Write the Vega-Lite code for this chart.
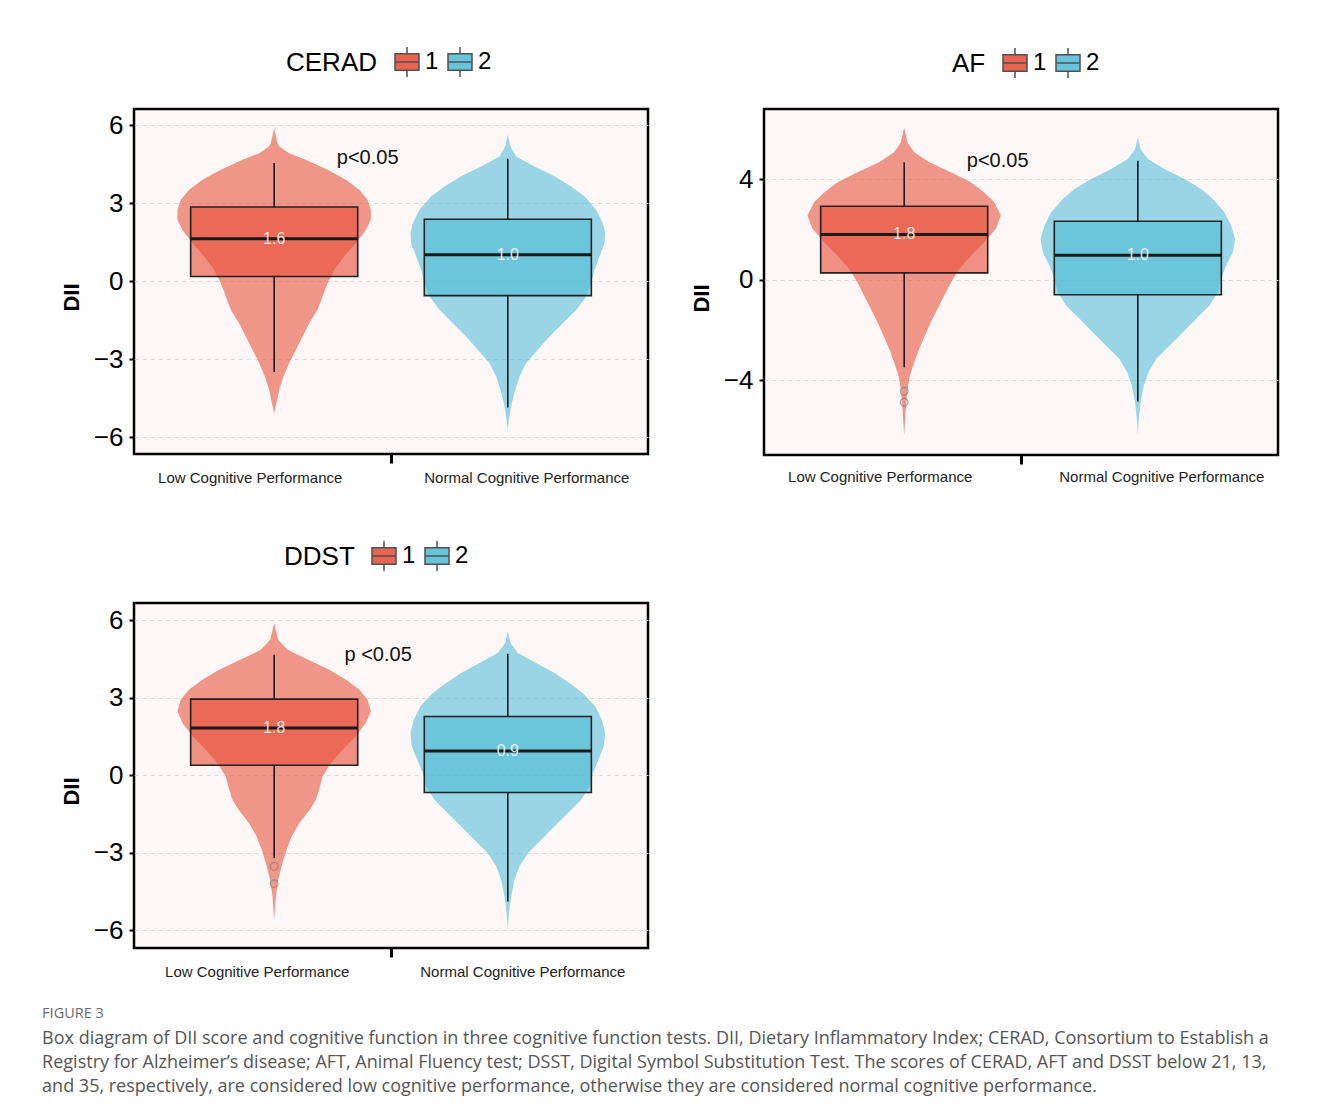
{
"$schema": "https://vega.github.io/schema/vega-lite/v6.json",
"background": "white",
"padding": {"left": 42, "top": 44, "right": 10, "bottom": 10},
"title": {"text": "FIGURE 3", "subtitle": ["Box diagram of DII score and cognitive function in three cognitive function tests. DII, Dietary Inflammatory Index; CERAD, Consortium to Establish a", "Registry for Alzheimer’s disease; AFT, Animal Fluency test; DSST, Digital Symbol Substitution Test. The scores of CERAD, AFT and DSST below 21, 13,", "and 35, respectively, are considered low cognitive performance, otherwise they are considered normal cognitive performance."], "orient": "bottom", "anchor": "start", "offset": 27, "dx": -17, "font": "Open Sans", "fontSize": 14.5, "fontWeight": "normal", "color": "#6b6b6b", "subtitleFont": "Open Sans", "subtitleFontSize": 18, "subtitleColor": "#555555", "subtitleLineHeight": 24, "subtitlePadding": 8},
"datasets": {
"violin": [
{"test":"CERAD","grp":"1","dii":5.88,"density":0},{"test":"CERAD","grp":"1","dii":5.31,"density":0.029},{"test":"CERAD","grp":"1","dii":5.18,"density":0.043},{"test":"CERAD","grp":"1","dii":4.92,"density":0.128},{"test":"CERAD","grp":"1","dii":4.67,"density":0.271},{"test":"CERAD","grp":"1","dii":4.28,"density":0.457},{"test":"CERAD","grp":"1","dii":3.9,"density":0.614},{"test":"CERAD","grp":"1","dii":3.51,"density":0.728},{"test":"CERAD","grp":"1","dii":3.13,"density":0.799},{"test":"CERAD","grp":"1","dii":2.74,"density":0.828},{"test":"CERAD","grp":"1","dii":2.36,"density":0.828},{"test":"CERAD","grp":"1","dii":1.97,"density":0.785},{"test":"CERAD","grp":"1","dii":1.46,"density":0.699},{"test":"CERAD","grp":"1","dii":0.95,"density":0.599},{"test":"CERAD","grp":"1","dii":0.44,"density":0.514},{"test":"CERAD","grp":"1","dii":-0.08,"density":0.457},{"test":"CERAD","grp":"1","dii":-0.59,"density":0.414},{"test":"CERAD","grp":"1","dii":-1.1,"density":0.371},{"test":"CERAD","grp":"1","dii":-1.62,"density":0.3},{"test":"CERAD","grp":"1","dii":-2.13,"density":0.243},{"test":"CERAD","grp":"1","dii":-2.64,"density":0.186},{"test":"CERAD","grp":"1","dii":-3.15,"density":0.128},{"test":"CERAD","grp":"1","dii":-3.67,"density":0.08},{"test":"CERAD","grp":"1","dii":-4.18,"density":0.043},{"test":"CERAD","grp":"1","dii":-4.69,"density":0.02},{"test":"CERAD","grp":"1","dii":-5.08,"density":0},
{"test":"CERAD","grp":"2","dii":5.63,"density":0},{"test":"CERAD","grp":"2","dii":5.18,"density":0.023},{"test":"CERAD","grp":"2","dii":4.79,"density":0.071},{"test":"CERAD","grp":"2","dii":4.41,"density":0.228},{"test":"CERAD","grp":"2","dii":4.03,"density":0.4},{"test":"CERAD","grp":"2","dii":3.64,"density":0.542},{"test":"CERAD","grp":"2","dii":3.26,"density":0.656},{"test":"CERAD","grp":"2","dii":2.74,"density":0.756},{"test":"CERAD","grp":"2","dii":2.23,"density":0.813},{"test":"CERAD","grp":"2","dii":1.85,"density":0.833},{"test":"CERAD","grp":"2","dii":1.46,"density":0.828},{"test":"CERAD","grp":"2","dii":0.95,"density":0.785},{"test":"CERAD","grp":"2","dii":0.44,"density":0.742},{"test":"CERAD","grp":"2","dii":-0.08,"density":0.714},{"test":"CERAD","grp":"2","dii":-0.59,"density":0.671},{"test":"CERAD","grp":"2","dii":-1.1,"density":0.585},{"test":"CERAD","grp":"2","dii":-1.62,"density":0.471},{"test":"CERAD","grp":"2","dii":-2.13,"density":0.357},{"test":"CERAD","grp":"2","dii":-2.64,"density":0.257},{"test":"CERAD","grp":"2","dii":-3.15,"density":0.157},{"test":"CERAD","grp":"2","dii":-3.67,"density":0.1},{"test":"CERAD","grp":"2","dii":-4.18,"density":0.063},{"test":"CERAD","grp":"2","dii":-4.69,"density":0.034},{"test":"CERAD","grp":"2","dii":-5.21,"density":0.014},{"test":"CERAD","grp":"2","dii":-5.72,"density":0},
{"test":"AF","grp":"1","dii":6.06,"density":0},{"test":"AF","grp":"1","dii":5.46,"density":0.029},{"test":"AF","grp":"1","dii":5.07,"density":0.086},{"test":"AF","grp":"1","dii":4.67,"density":0.214},{"test":"AF","grp":"1","dii":4.27,"density":0.4},{"test":"AF","grp":"1","dii":3.87,"density":0.571},{"test":"AF","grp":"1","dii":3.47,"density":0.685},{"test":"AF","grp":"1","dii":3.08,"density":0.771},{"test":"AF","grp":"1","dii":2.55,"density":0.828},{"test":"AF","grp":"1","dii":2.02,"density":0.785},{"test":"AF","grp":"1","dii":1.49,"density":0.685},{"test":"AF","grp":"1","dii":0.95,"density":0.571},{"test":"AF","grp":"1","dii":0.42,"density":0.471},{"test":"AF","grp":"1","dii":-0.11,"density":0.4},{"test":"AF","grp":"1","dii":-0.64,"density":0.342},{"test":"AF","grp":"1","dii":-1.17,"density":0.285},{"test":"AF","grp":"1","dii":-1.7,"density":0.228},{"test":"AF","grp":"1","dii":-2.23,"density":0.177},{"test":"AF","grp":"1","dii":-2.76,"density":0.128},{"test":"AF","grp":"1","dii":-3.29,"density":0.086},{"test":"AF","grp":"1","dii":-3.82,"density":0.049},{"test":"AF","grp":"1","dii":-4.35,"density":0.029},{"test":"AF","grp":"1","dii":-5.15,"density":0.014},{"test":"AF","grp":"1","dii":-6.21,"density":0},
{"test":"AF","grp":"2","dii":5.66,"density":0},{"test":"AF","grp":"2","dii":5.2,"density":0.023},{"test":"AF","grp":"2","dii":4.8,"density":0.086},{"test":"AF","grp":"2","dii":4.4,"density":0.228},{"test":"AF","grp":"2","dii":4.0,"density":0.4},{"test":"AF","grp":"2","dii":3.61,"density":0.542},{"test":"AF","grp":"2","dii":3.21,"density":0.642},{"test":"AF","grp":"2","dii":2.68,"density":0.742},{"test":"AF","grp":"2","dii":2.15,"density":0.799},{"test":"AF","grp":"2","dii":1.62,"density":0.833},{"test":"AF","grp":"2","dii":1.09,"density":0.813},{"test":"AF","grp":"2","dii":0.56,"density":0.756},{"test":"AF","grp":"2","dii":0.03,"density":0.714},{"test":"AF","grp":"2","dii":-0.5,"density":0.685},{"test":"AF","grp":"2","dii":-1.03,"density":0.614},{"test":"AF","grp":"2","dii":-1.56,"density":0.499},{"test":"AF","grp":"2","dii":-2.1,"density":0.385},{"test":"AF","grp":"2","dii":-2.63,"density":0.271},{"test":"AF","grp":"2","dii":-3.16,"density":0.157},{"test":"AF","grp":"2","dii":-3.69,"density":0.091},{"test":"AF","grp":"2","dii":-4.22,"density":0.051},{"test":"AF","grp":"2","dii":-4.88,"density":0.023},{"test":"AF","grp":"2","dii":-5.68,"density":0.006},{"test":"AF","grp":"2","dii":-6.2,"density":0},
{"test":"DDST","grp":"1","dii":5.9,"density":0},{"test":"DDST","grp":"1","dii":5.25,"density":0.034},{"test":"DDST","grp":"1","dii":4.86,"density":0.114},{"test":"DDST","grp":"1","dii":4.48,"density":0.285},{"test":"DDST","grp":"1","dii":4.09,"density":0.471},{"test":"DDST","grp":"1","dii":3.7,"density":0.614},{"test":"DDST","grp":"1","dii":3.32,"density":0.728},{"test":"DDST","grp":"1","dii":2.94,"density":0.799},{"test":"DDST","grp":"1","dii":2.48,"density":0.828},{"test":"DDST","grp":"1","dii":2.03,"density":0.785},{"test":"DDST","grp":"1","dii":1.51,"density":0.699},{"test":"DDST","grp":"1","dii":0.99,"density":0.585},{"test":"DDST","grp":"1","dii":0.48,"density":0.485},{"test":"DDST","grp":"1","dii":-0.04,"density":0.414},{"test":"DDST","grp":"1","dii":-0.55,"density":0.385},{"test":"DDST","grp":"1","dii":-0.94,"density":0.357},{"test":"DDST","grp":"1","dii":-1.33,"density":0.305},{"test":"DDST","grp":"1","dii":-1.85,"density":0.214},{"test":"DDST","grp":"1","dii":-2.36,"density":0.151},{"test":"DDST","grp":"1","dii":-2.88,"density":0.106},{"test":"DDST","grp":"1","dii":-3.39,"density":0.071},{"test":"DDST","grp":"1","dii":-4.04,"density":0.034},{"test":"DDST","grp":"1","dii":-4.7,"density":0.014},{"test":"DDST","grp":"1","dii":-5.59,"density":0},
{"test":"DDST","grp":"2","dii":5.57,"density":0},{"test":"DDST","grp":"2","dii":5.12,"density":0.023},{"test":"DDST","grp":"2","dii":4.74,"density":0.086},{"test":"DDST","grp":"2","dii":4.35,"density":0.243},{"test":"DDST","grp":"2","dii":3.96,"density":0.4},{"test":"DDST","grp":"2","dii":3.57,"density":0.528},{"test":"DDST","grp":"2","dii":3.19,"density":0.642},{"test":"DDST","grp":"2","dii":2.67,"density":0.748},{"test":"DDST","grp":"2","dii":2.15,"density":0.805},{"test":"DDST","grp":"2","dii":1.64,"density":0.833},{"test":"DDST","grp":"2","dii":1.12,"density":0.822},{"test":"DDST","grp":"2","dii":0.61,"density":0.776},{"test":"DDST","grp":"2","dii":0.09,"density":0.728},{"test":"DDST","grp":"2","dii":-0.43,"density":0.699},{"test":"DDST","grp":"2","dii":-0.94,"density":0.628},{"test":"DDST","grp":"2","dii":-1.46,"density":0.514},{"test":"DDST","grp":"2","dii":-1.97,"density":0.4},{"test":"DDST","grp":"2","dii":-2.49,"density":0.285},{"test":"DDST","grp":"2","dii":-3.01,"density":0.171},{"test":"DDST","grp":"2","dii":-3.52,"density":0.1},{"test":"DDST","grp":"2","dii":-4.04,"density":0.057},{"test":"DDST","grp":"2","dii":-4.68,"density":0.029},{"test":"DDST","grp":"2","dii":-5.33,"density":0.011},{"test":"DDST","grp":"2","dii":-5.9,"density":0}
],
"box": [
{"test":"CERAD","grp":"1","cat":"Low Cognitive Performance","lower":-3.5,"q1":0.18,"median":1.63,"q3":2.85,"upper":4.54},
{"test":"CERAD","grp":"2","cat":"Normal Cognitive Performance","lower":-4.86,"q1":-0.56,"median":1.01,"q3":2.38,"upper":4.71},
{"test":"AF","grp":"1","cat":"Low Cognitive Performance","lower":-3.49,"q1":0.27,"median":1.8,"q3":2.92,"upper":4.67},
{"test":"AF","grp":"2","cat":"Normal Cognitive Performance","lower":-4.85,"q1":-0.6,"median":0.97,"q3":2.32,"upper":4.73},
{"test":"DDST","grp":"1","cat":"Low Cognitive Performance","lower":-3.2,"q1":0.39,"median":1.83,"q3":2.95,"upper":4.67},
{"test":"DDST","grp":"2","cat":"Normal Cognitive Performance","lower":-4.88,"q1":-0.66,"median":0.94,"q3":2.28,"upper":4.71}
],
"out": [
{"test":"AF","cat":"Low Cognitive Performance","value":-4.44},
{"test":"AF","cat":"Low Cognitive Performance","value":-4.88},
{"test":"DDST","cat":"Low Cognitive Performance","value":-3.52},
{"test":"DDST","cat":"Low Cognitive Performance","value":-4.19}
],
"ann": [
{"test":"CERAD","x":1.4,"y":4.72,"label":"p<0.05"},
{"test":"AF","x":1.4,"y":4.72,"label":"p<0.05"},
{"test":"DDST","x":1.445,"y":4.67,"label":"p <0.05"}
]
},
"spacing": 51,
"resolve": {"scale": {"color": "independent", "y": "independent", "x": "independent"}, "legend": {"color": "independent"}},
"vconcat": [
{
"spacing": 39,
"resolve": {"scale": {"color": "independent", "y": "independent", "x": "independent"}, "legend": {"color": "independent"}},
"hconcat": [
{
"width": 514, "height": 345,
"resolve": {"scale": {"x": "independent"}},
"layer": [
{"data": {"name": "violin"}, "transform": [{"filter": "datum.test === 'CERAD' && datum.grp === '1'"}],
 "mark": {"type": "area", "orient": "horizontal", "fillOpacity": 0.57},
 "encoding": {
  "y": {"field": "dii", "type": "quantitative", "title": "DII", "scale": {"domain": [-6.65, 6.62], "nice": false, "zero": false}, "axis": {"values": [-6, -3, 0, 3, 6], "titleY": 188}},
  "x": {"field": "density", "type": "quantitative", "stack": "center", "scale": {"domain": [-0.186, 2.014]}, "axis": null},
  "color": {"field": "grp", "type": "nominal", "scale": {"domain": ["1", "2"], "range": ["#E64B35", "#4DBBD5"]}, "legend": {"title": "CERAD", "legendX": 152, "legendY": -63}}}},
{"data": {"name": "violin"}, "transform": [{"filter": "datum.test === 'CERAD' && datum.grp === '2'"}],
 "mark": {"type": "area", "orient": "horizontal", "fillOpacity": 0.57},
 "encoding": {
  "y": {"field": "dii", "type": "quantitative", "title": "DII"},
  "x": {"field": "density", "type": "quantitative", "stack": "center", "scale": {"domain": [-1.1835, 1.0165]}, "axis": null},
  "color": {"field": "grp", "type": "nominal"}}},
{"data": {"name": "ann"}, "transform": [{"filter": "datum.test === 'CERAD'"}],
 "mark": {"type": "text", "fontSize": 20, "color": "#111111"},
 "encoding": {
  "x": {"field": "x", "type": "quantitative", "scale": {"domain": [0.4, 2.6]}, "axis": null},
  "y": {"field": "y", "type": "quantitative", "title": "DII"},
  "text": {"field": "label"}}},
{"data": {"name": "box"}, "transform": [{"filter": "datum.test === 'CERAD'"}],
 "encoding": {"x": {"field": "cat", "type": "nominal", "title": null, "scale": {"domain": ["Low Cognitive Performance", "Normal Cognitive Performance"], "paddingInner": 0, "paddingOuter": 0.1},
   "axis": {"orient": "bottom", "bandPosition": 1, "labelAngle": 0, "labelFontSize": 15, "labelLimit": 0, "labelColor": "#222222", "labelPadding": 7, "domain": false, "grid": false, "tickSize": 9, "tickWidth": 3,
    "tickColor": {"condition": {"test": "datum.value === 'Low Cognitive Performance'", "value": "black"}, "value": "transparent"},
    "labelOffset": {"condition": {"test": "datum.value === 'Low Cognitive Performance'", "value": -24}, "value": 19}}}},
 "layer": [
  {"mark": {"type": "rule", "color": "#1a1a1a", "strokeWidth": 1.6}, "encoding": {"y": {"field": "q3", "type": "quantitative", "title": "DII"}, "y2": {"field": "upper"}}},
  {"mark": {"type": "rule", "color": "#1a1a1a", "strokeWidth": 1.6}, "encoding": {"y": {"field": "lower", "type": "quantitative", "title": "DII"}, "y2": {"field": "q1"}}},
  {"mark": {"type": "bar", "width": {"band": 0.715}, "fillOpacity": 0.6, "stroke": "#222222", "strokeWidth": 1.6}, "encoding": {"y": {"field": "q1", "type": "quantitative", "title": "DII"}, "y2": {"field": "q3"}, "color": {"field": "grp", "type": "nominal"}}},
  {"mark": {"type": "bar", "width": {"band": 0.715}, "fill": "transparent", "stroke": "#1a1a1a", "strokeWidth": 3}, "encoding": {"y": {"field": "median", "type": "quantitative", "title": "DII"}, "y2": {"field": "median"}}},
  {"mark": {"type": "text", "color": "white", "fontSize": 16, "opacity": 0.85}, "encoding": {"y": {"field": "median", "type": "quantitative", "title": "DII"}, "text": {"field": "median", "type": "quantitative", "format": ".1f"}}},
  {"data": {"name": "out"}, "transform": [{"filter": "datum.test === 'CERAD'"}], "mark": {"type": "point", "shape": "circle", "filled": false, "color": "#808080", "size": 60, "strokeWidth": 1.2}, "encoding": {"y": {"field": "value", "type": "quantitative", "title": "DII"}}}
 ]}
]
},
{
"width": 514, "height": 346,
"resolve": {"scale": {"x": "independent"}},
"layer": [
{"data": {"name": "violin"}, "transform": [{"filter": "datum.test === 'AF' && datum.grp === '1'"}],
 "mark": {"type": "area", "orient": "horizontal", "fillOpacity": 0.57},
 "encoding": {
  "y": {"field": "dii", "type": "quantitative", "title": "DII", "scale": {"domain": [-6.98, 6.79], "nice": false, "zero": false}, "axis": {"values": [-4, 0, 4], "titleY": 189}},
  "x": {"field": "density", "type": "quantitative", "stack": "center", "scale": {"domain": [-0.186, 2.014]}, "axis": null},
  "color": {"field": "grp", "type": "nominal", "scale": {"domain": ["1", "2"], "range": ["#E64B35", "#4DBBD5"]}, "legend": {"title": "AF", "legendX": 188, "legendY": -62}}}},
{"data": {"name": "violin"}, "transform": [{"filter": "datum.test === 'AF' && datum.grp === '2'"}],
 "mark": {"type": "area", "orient": "horizontal", "fillOpacity": 0.57},
 "encoding": {
  "y": {"field": "dii", "type": "quantitative", "title": "DII"},
  "x": {"field": "density", "type": "quantitative", "stack": "center", "scale": {"domain": [-1.1835, 1.0165]}, "axis": null},
  "color": {"field": "grp", "type": "nominal"}}},
{"data": {"name": "ann"}, "transform": [{"filter": "datum.test === 'AF'"}],
 "mark": {"type": "text", "fontSize": 20, "color": "#111111"},
 "encoding": {
  "x": {"field": "x", "type": "quantitative", "scale": {"domain": [0.4, 2.6]}, "axis": null},
  "y": {"field": "y", "type": "quantitative", "title": "DII"},
  "text": {"field": "label"}}},
{"data": {"name": "box"}, "transform": [{"filter": "datum.test === 'AF'"}],
 "encoding": {"x": {"field": "cat", "type": "nominal", "title": null, "scale": {"domain": ["Low Cognitive Performance", "Normal Cognitive Performance"], "paddingInner": 0, "paddingOuter": 0.1},
   "axis": {"orient": "bottom", "bandPosition": 1, "labelAngle": 0, "labelFontSize": 15, "labelLimit": 0, "labelColor": "#222222", "labelPadding": 5, "domain": false, "grid": false, "tickSize": 9, "tickWidth": 3,
    "tickColor": {"condition": {"test": "datum.value === 'Low Cognitive Performance'", "value": "black"}, "value": "transparent"},
    "labelOffset": {"condition": {"test": "datum.value === 'Low Cognitive Performance'", "value": -24}, "value": 24}}}},
 "layer": [
  {"mark": {"type": "rule", "color": "#1a1a1a", "strokeWidth": 1.6}, "encoding": {"y": {"field": "q3", "type": "quantitative", "title": "DII"}, "y2": {"field": "upper"}}},
  {"mark": {"type": "rule", "color": "#1a1a1a", "strokeWidth": 1.6}, "encoding": {"y": {"field": "lower", "type": "quantitative", "title": "DII"}, "y2": {"field": "q1"}}},
  {"mark": {"type": "bar", "width": {"band": 0.715}, "fillOpacity": 0.6, "stroke": "#222222", "strokeWidth": 1.6}, "encoding": {"y": {"field": "q1", "type": "quantitative", "title": "DII"}, "y2": {"field": "q3"}, "color": {"field": "grp", "type": "nominal"}}},
  {"mark": {"type": "bar", "width": {"band": 0.715}, "fill": "transparent", "stroke": "#1a1a1a", "strokeWidth": 3}, "encoding": {"y": {"field": "median", "type": "quantitative", "title": "DII"}, "y2": {"field": "median"}}},
  {"mark": {"type": "text", "color": "white", "fontSize": 16, "opacity": 0.85}, "encoding": {"y": {"field": "median", "type": "quantitative", "title": "DII"}, "text": {"field": "median", "type": "quantitative", "format": ".1f"}}},
  {"data": {"name": "out"}, "transform": [{"filter": "datum.test === 'AF'"}], "mark": {"type": "point", "shape": "circle", "filled": false, "color": "#808080", "size": 60, "strokeWidth": 1.2}, "encoding": {"y": {"field": "value", "type": "quantitative", "title": "DII"}}}
 ]}
]
}
]
},
{
"width": 514, "height": 345,
"resolve": {"scale": {"x": "independent"}},
"layer": [
{"data": {"name": "violin"}, "transform": [{"filter": "datum.test === 'DDST' && datum.grp === '1'"}],
 "mark": {"type": "area", "orient": "horizontal", "fillOpacity": 0.57},
 "encoding": {
  "y": {"field": "dii", "type": "quantitative", "title": "DII", "scale": {"domain": [-6.68, 6.67], "nice": false, "zero": false}, "axis": {"values": [-6, -3, 0, 3, 6], "titleY": 188}},
  "x": {"field": "density", "type": "quantitative", "stack": "center", "scale": {"domain": [-0.186, 2.014]}, "axis": null},
  "color": {"field": "grp", "type": "nominal", "scale": {"domain": ["1", "2"], "range": ["#E64B35", "#4DBBD5"]}, "legend": {"title": "DDST", "legendX": 150, "legendY": -63}}}},
{"data": {"name": "violin"}, "transform": [{"filter": "datum.test === 'DDST' && datum.grp === '2'"}],
 "mark": {"type": "area", "orient": "horizontal", "fillOpacity": 0.57},
 "encoding": {
  "y": {"field": "dii", "type": "quantitative", "title": "DII"},
  "x": {"field": "density", "type": "quantitative", "stack": "center", "scale": {"domain": [-1.1835, 1.0165]}, "axis": null},
  "color": {"field": "grp", "type": "nominal"}}},
{"data": {"name": "ann"}, "transform": [{"filter": "datum.test === 'DDST'"}],
 "mark": {"type": "text", "fontSize": 20, "color": "#111111"},
 "encoding": {
  "x": {"field": "x", "type": "quantitative", "scale": {"domain": [0.4, 2.6]}, "axis": null},
  "y": {"field": "y", "type": "quantitative", "title": "DII"},
  "text": {"field": "label"}}},
{"data": {"name": "box"}, "transform": [{"filter": "datum.test === 'DDST'"}],
 "encoding": {"x": {"field": "cat", "type": "nominal", "title": null, "scale": {"domain": ["Low Cognitive Performance", "Normal Cognitive Performance"], "paddingInner": 0, "paddingOuter": 0.1},
   "axis": {"orient": "bottom", "bandPosition": 1, "labelAngle": 0, "labelFontSize": 15, "labelLimit": 0, "labelColor": "#222222", "labelPadding": 7, "domain": false, "grid": false, "tickSize": 9, "tickWidth": 3,
    "tickColor": {"condition": {"test": "datum.value === 'Low Cognitive Performance'", "value": "black"}, "value": "transparent"},
    "labelOffset": {"condition": {"test": "datum.value === 'Low Cognitive Performance'", "value": -17}, "value": 15}}}},
 "layer": [
  {"mark": {"type": "rule", "color": "#1a1a1a", "strokeWidth": 1.6}, "encoding": {"y": {"field": "q3", "type": "quantitative", "title": "DII"}, "y2": {"field": "upper"}}},
  {"mark": {"type": "rule", "color": "#1a1a1a", "strokeWidth": 1.6}, "encoding": {"y": {"field": "lower", "type": "quantitative", "title": "DII"}, "y2": {"field": "q1"}}},
  {"mark": {"type": "bar", "width": {"band": 0.715}, "fillOpacity": 0.6, "stroke": "#222222", "strokeWidth": 1.6}, "encoding": {"y": {"field": "q1", "type": "quantitative", "title": "DII"}, "y2": {"field": "q3"}, "color": {"field": "grp", "type": "nominal"}}},
  {"mark": {"type": "bar", "width": {"band": 0.715}, "fill": "transparent", "stroke": "#1a1a1a", "strokeWidth": 3}, "encoding": {"y": {"field": "median", "type": "quantitative", "title": "DII"}, "y2": {"field": "median"}}},
  {"mark": {"type": "text", "color": "white", "fontSize": 16, "opacity": 0.85}, "encoding": {"y": {"field": "median", "type": "quantitative", "title": "DII"}, "text": {"field": "median", "type": "quantitative", "format": ".1f"}}},
  {"data": {"name": "out"}, "transform": [{"filter": "datum.test === 'DDST'"}], "mark": {"type": "point", "shape": "circle", "filled": false, "color": "#808080", "size": 60, "strokeWidth": 1.2}, "encoding": {"y": {"field": "value", "type": "quantitative", "title": "DII"}}}
 ]}
]
}
],
"config": {
 "font": "Liberation Sans",
 "view": {"fill": "#FDF8F7", "stroke": "#000000", "strokeWidth": 2.5},
 "axisY": {"labelFontSize": 26, "labelColor": "#000000", "tickColor": "#000000", "tickWidth": 2, "tickSize": 5, "labelPadding": 6, "domain": false, "grid": true, "gridColor": "#d9d9d9", "gridDash": [4, 4], "gridWidth": 1, "titleFontSize": 22, "titleFontWeight": "bold", "titleColor": "#000000", "titlePadding": 10},
 "legend": {"orient": "none", "direction": "horizontal", "titleOrient": "left", "titleFontSize": 26, "labelFontSize": 24, "titleFontWeight": "normal", "titleColor": "#000000", "labelColor": "#000000", "symbolType": "M-0.8,-0.55H0.8V0.55H-0.8Z M-0.8,0H0.8 M0,-0.55V-1 M0,0.55V1", "symbolSize": 900, "symbolStrokeColor": "#333333", "symbolStrokeWidth": 1.5, "symbolOpacity": 0.85, "labelOffset": 2, "columnPadding": 5, "titlePadding": 13}
}
}
